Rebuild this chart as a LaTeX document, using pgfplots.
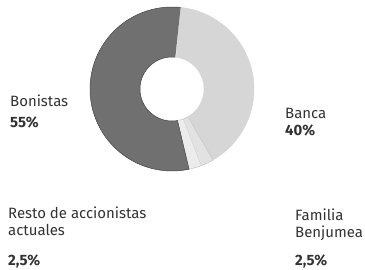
\documentclass[border=0pt]{standalone}
\usepackage{pgfplots}
\pgfplotsset{compat=1.18}
\usepackage{fontspec}
\setmainfont{Fira Sans}
\definecolor{darkslice}{RGB}{112,112,112}
\definecolor{darkedge}{RGB}{70,70,70}
\definecolor{lightslice}{RGB}{214,214,214}
\definecolor{smallA}{RGB}{236,236,236}
\definecolor{smallB}{RGB}{226,226,226}
\definecolor{txt}{RGB}{50,50,50}
% ring slice: #1 fill, #2 edge, #3 start percent, #4 end percent
\newcommand{\ringslice}[4]{%
\addplot[fill=#1, draw=#2, line width=0.5pt, domain=0:2, samples=201, variable=\t]
 ({172+((\t<=1)?82:32)*cos(84+3.6*((\t<=1)?(#3+(#4-#3)*\t):(#4-(#4-#3)*(\t-1))))},
  {181+((\t<=1)?82:32)*sin(84+3.6*((\t<=1)?(#3+(#4-#3)*\t):(#4-(#4-#3)*(\t-1))))});
}
\begin{document}
\begin{tikzpicture}
\useasboundingbox (0,0) rectangle (365bp,270bp);
\begin{axis}[scale only axis, width=365bp, height=270bp,
  xmin=0, xmax=365, ymin=0, ymax=270, hide axis, clip=false]
\ringslice{lightslice}{lightslice}{60}{100}
\ringslice{smallA}{smallB!70!gray}{55}{57.5}
\ringslice{smallB}{smallB!70!gray}{57.5}{60}
\ringslice{darkslice}{darkedge}{0}{55}
\begin{scope}[every node/.style={anchor=base west, text=txt, inner sep=0pt, font=\fontsize{15}{18}\selectfont}]
\node at (axis cs:10,164) {Bonistas};
\node at (axis cs:10,143) {\bfseries 55\%};
\node at (axis cs:285,152) {Banca};
\node at (axis cs:285,135) {\bfseries 40\%};
\node at (axis cs:8,52) {Resto de accionistas};
\node at (axis cs:8,35) {actuales};
\node at (axis cs:8,5) {\bfseries 2,5\%};
\node at (axis cs:295,50) {Familia};
\node at (axis cs:295,33) {Benjumea};
\node at (axis cs:295,5) {\bfseries 2,5\%};
\end{scope}
\end{axis}
\end{tikzpicture}
\end{document}
